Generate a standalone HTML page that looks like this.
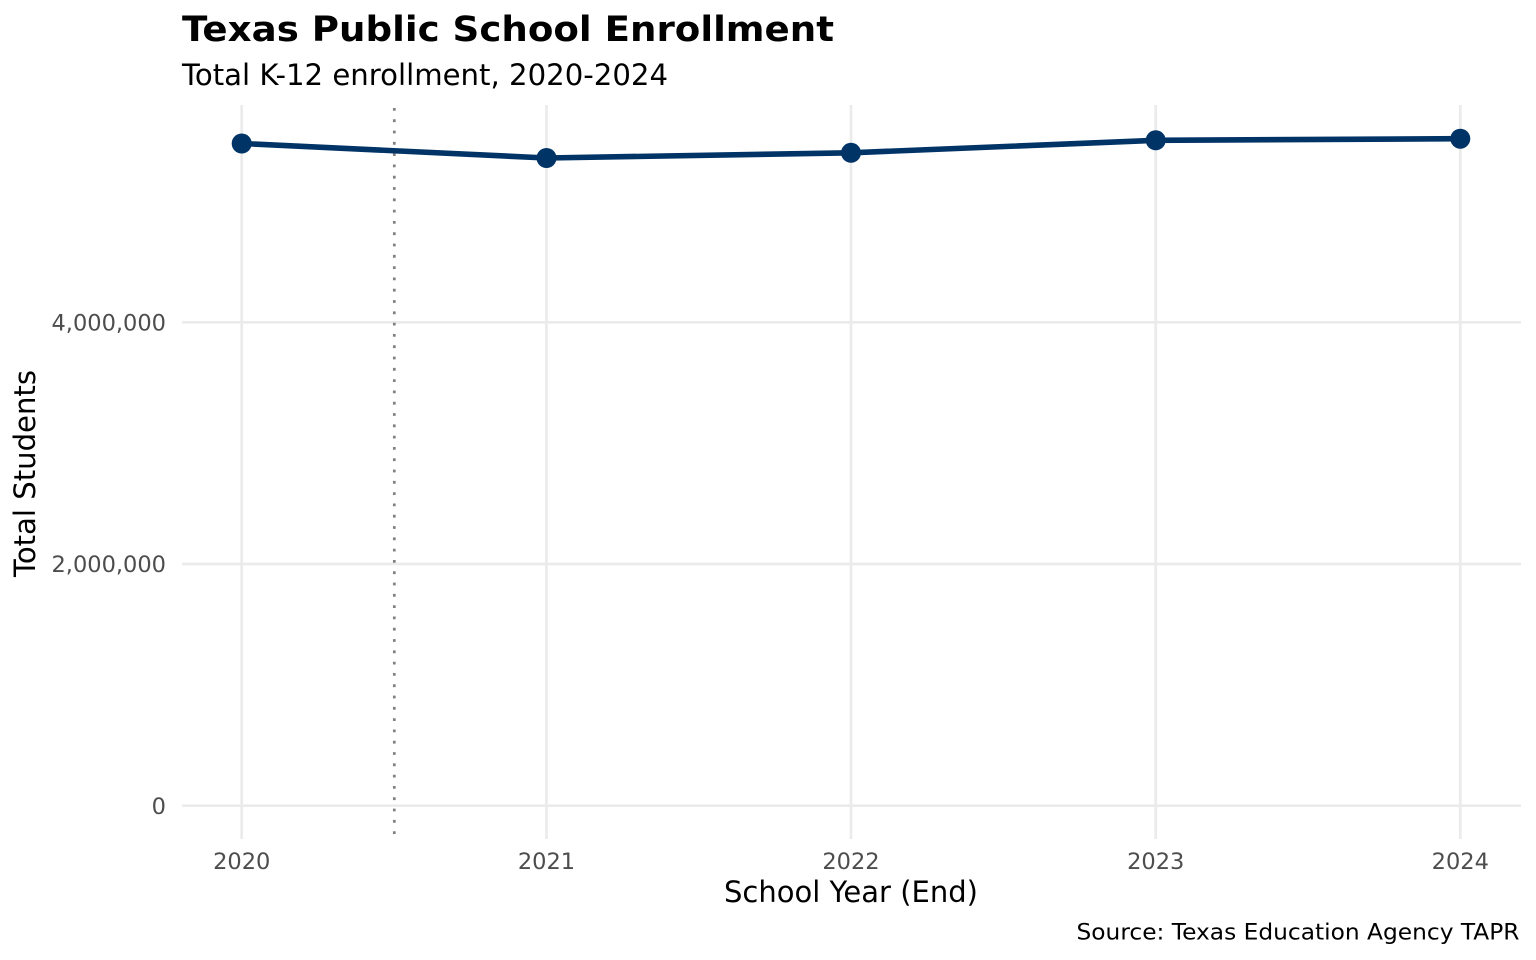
<!DOCTYPE html>
<html>
<head>
<meta charset="utf-8">
<style>
  html, body { margin: 0; padding: 0; background: #ffffff; }
  body { width: 1536px; height: 960px; overflow: hidden; }
  svg { display: block; }
  text { font-family: "DejaVu Sans", "Liberation Sans", sans-serif; }
</style>
</head>
<body>
<svg width="1536" height="960" viewBox="0 0 1536 960" xmlns="http://www.w3.org/2000/svg">
  <rect x="0" y="0" width="1536" height="960" fill="#ffffff"/>

  <!-- horizontal gridlines -->
  <g stroke="#EBEBEB" stroke-width="2.7" fill="none">
    <line x1="182" y1="322.3" x2="1521" y2="322.3"/>
    <line x1="182" y1="564" x2="1521" y2="564"/>
    <line x1="182" y1="805.7" x2="1521" y2="805.7"/>
    <!-- vertical gridlines -->
    <line x1="241.7" y1="105" x2="241.7" y2="839"/>
    <line x1="546.5" y1="105" x2="546.5" y2="839"/>
    <line x1="851" y1="105" x2="851" y2="839"/>
    <line x1="1155.7" y1="105" x2="1155.7" y2="839"/>
    <line x1="1460.3" y1="105" x2="1460.3" y2="839"/>
  </g>

  <!-- dotted reference line -->
  <line x1="394.3" y1="108" x2="394.3" y2="840" stroke="#808080" stroke-width="2.7" stroke-dasharray="2.8 8.5"/>

  <!-- series line -->
  <polyline points="241.7,143.5 546.5,158 851,152.8 1155.7,140.3 1460.3,138.7" fill="none" stroke="#003366" stroke-width="5.6" stroke-linejoin="round" stroke-linecap="butt"/>
  <g fill="#003366">
    <circle cx="241.7" cy="143.5" r="10"/>
    <circle cx="546.5" cy="158" r="10"/>
    <circle cx="851" cy="152.8" r="10"/>
    <circle cx="1155.7" cy="140.3" r="10"/>
    <circle cx="1460.3" cy="138.7" r="10"/>
  </g>

  <!-- y tick labels -->
  <g fill="#4D4D4D" font-size="22.5" text-anchor="end">
    <text x="166" y="330.5">4,000,000</text>
    <text x="166" y="572.2">2,000,000</text>
    <text x="166" y="813.8">0</text>
  </g>

  <!-- x tick labels -->
  <g fill="#4D4D4D" font-size="22.5" text-anchor="middle">
    <text x="241.7" y="869">2020</text>
    <text x="546.5" y="869">2021</text>
    <text x="851" y="869">2022</text>
    <text x="1155.7" y="869">2023</text>
    <text x="1460.3" y="869">2024</text>
  </g>

  <!-- axis titles -->
  <text x="851" y="902" font-size="29" fill="#000000" text-anchor="middle" textLength="254" lengthAdjust="spacingAndGlyphs">School Year (End)</text>
  <text transform="translate(35,473.5) rotate(-90)" font-size="29" fill="#000000" text-anchor="middle" textLength="207" lengthAdjust="spacingAndGlyphs">Total Students</text>

  <!-- title / subtitle -->
  <text x="182" y="41" font-size="35" font-weight="bold" fill="#000000" textLength="652" lengthAdjust="spacingAndGlyphs">Texas Public School Enrollment</text>
  <text x="182" y="85" font-size="29" fill="#000000" textLength="486" lengthAdjust="spacingAndGlyphs">Total K-12 enrollment, 2020-2024</text>

  <!-- caption -->
  <text x="1519.5" y="939.5" font-size="22.5" fill="#000000" text-anchor="end" textLength="443" lengthAdjust="spacingAndGlyphs">Source: Texas Education Agency TAPR</text>
</svg>
</body>
</html>
